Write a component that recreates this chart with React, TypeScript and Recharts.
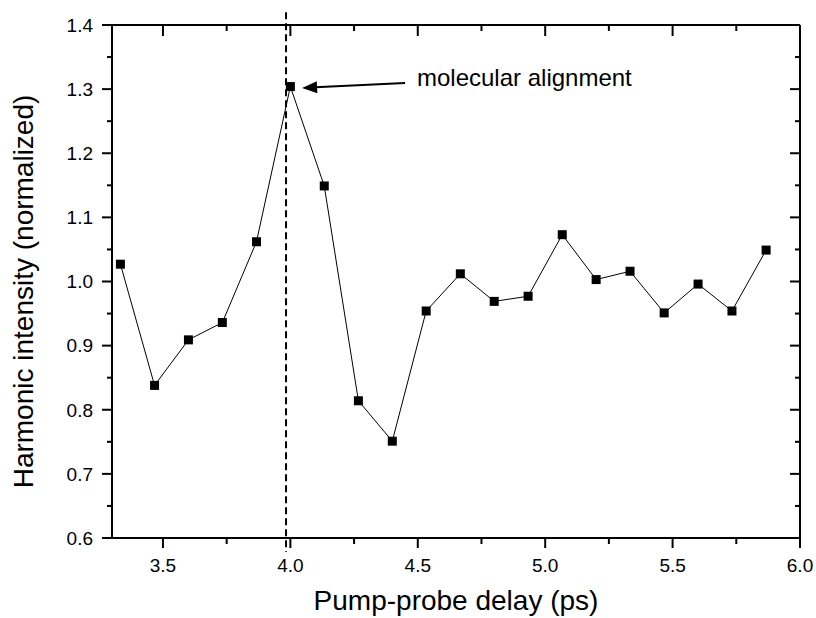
import React from 'react';
import { LineChart, Line, XAxis, YAxis, ReferenceLine, ReferenceDot } from 'recharts';

// pump-probe delay (ps) and normalized harmonic signal
const delays = [
  3.333, 3.467, 3.6, 3.733, 3.867, 4.0, 4.133, 4.267, 4.4, 4.533,
  4.667, 4.8, 4.933, 5.067, 5.2, 5.333, 5.467, 5.6, 5.733, 5.867,
];
const intensity = [
  1.027, 0.838, 0.909, 0.936, 1.062, 1.304, 1.149, 0.814, 0.751, 0.954,
  1.012, 0.969, 0.977, 1.073, 1.003, 1.016, 0.951, 0.996, 0.954, 1.049,
];

const xTicks = [3.5, 3.75, 4.0, 4.25, 4.5, 4.75, 5.0, 5.25, 5.5, 5.75, 6.0];
const yTicks = [0.6, 0.65, 0.7, 0.75, 0.8, 0.85, 0.9, 0.95, 1.0, 1.05, 1.1, 1.15, 1.2, 1.25, 1.3, 1.35, 1.4];
const xDomain = [3.3, 6.0];
const yDomain = [0.6, 1.4];

// dashed marker and annotation
const alignDelay = 3.983;
const dashedSpan = [1.42, 0.578];
const arrowFrom = { x: 4.45, y: 1.3096 };
const arrowTo = { x: 4.046, y: 1.3018 };
const noteAt = { x: 4.497, y: 1.305 };
const noteText = 'molecular alignment';

const data = delays.map((d, i) => ({ delay: d, value: intensity[i] }));

const FONT = '"Liberation Sans", Arial, Helvetica, sans-serif';

const isMajor = (v: number, step: number) => Math.abs(v / step - Math.round(v / step)) < 1e-6;

const BottomTick = (p: any) => {
  const v = p.payload.value;
  const major = isMajor(v, 0.5);
  return (
    <g>
      <line x1={p.x} x2={p.x} y1={p.y} y2={p.y + (major ? 10 : 6)} stroke="#000" strokeWidth={2} />
      {major && (
        <text x={p.x} y={p.y + 34} textAnchor="middle" fontSize={19} fontFamily={FONT} fill="#000">
          {v.toFixed(1)}
        </text>
      )}
    </g>
  );
};

const TopTick = (p: any) => {
  const major = isMajor(p.payload.value, 0.5);
  return <line x1={p.x} x2={p.x} y1={p.y} y2={p.y + (major ? 11 : 6)} stroke="#000" strokeWidth={2} />;
};

const LeftTick = (p: any) => {
  const v = p.payload.value;
  const major = isMajor(v, 0.1);
  return (
    <g>
      <line x1={p.x} x2={p.x - (major ? 10 : 5)} y1={p.y} y2={p.y} stroke="#000" strokeWidth={2} />
      {major && (
        <text x={p.x - 19} y={p.y} dy="0.36em" textAnchor="end" fontSize={19} fontFamily={FONT} fill="#000">
          {v.toFixed(1)}
        </text>
      )}
    </g>
  );
};

const RightTick = (p: any) => {
  const major = isMajor(p.payload.value, 0.1);
  return <line x1={p.x} x2={p.x - (major ? 10 : 5)} y1={p.y} y2={p.y} stroke="#000" strokeWidth={2} />;
};

const SquareDot = (p: any) => (
  <rect key={`sq-${p.index}`} x={p.cx - 4.5} y={p.cy - 4.5} width={9} height={9} fill="#000" />
);

const Arrow = (p: any) => {
  const { x1, y1, x2, y2 } = p;
  const dx = x2 - x1;
  const dy = y2 - y1;
  const len = Math.sqrt(dx * dx + dy * dy);
  const ux = dx / len;
  const uy = dy / len;
  const head = 15;
  const half = 6;
  const bx = x2 - ux * head;
  const by = y2 - uy * head;
  return (
    <g>
      <line x1={x1} y1={y1} x2={bx + ux * 2} y2={by + uy * 2} stroke="#000" strokeWidth={2} />
      <polygon
        points={`${x2},${y2} ${bx - uy * half},${by + ux * half} ${bx + uy * half},${by - ux * half}`}
        fill="#000"
      />
    </g>
  );
};

const Note = (p: any) => (
  <text x={p.cx} y={p.cy} fontSize={24} fontFamily={FONT} fill="#000">
    {noteText}
  </text>
);

const XTitle = (p: any) => {
  const vb = p.viewBox;
  return (
    <text x={vb.x + vb.width / 2} y={vb.y + 72} textAnchor="middle" fontSize={28} fontFamily={FONT} fill="#000">
      Pump-probe delay (ps)
    </text>
  );
};

const YTitle = (p: any) => {
  const vb = p.viewBox;
  const cx = 33;
  const cy = vb.y + vb.height / 2 + 10;
  return (
    <text
      x={cx}
      y={cy}
      transform={`rotate(-90 ${cx} ${cy})`}
      textAnchor="middle"
      fontSize={28}
      fontFamily={FONT}
      fill="#000"
    >
      Harmonic intensity (normalized)
    </text>
  );
};

export default function App() {
  return (
    <div style={{ position: 'absolute', left: 0, top: 0, width: 816, height: 618, background: '#fff' }}>
      <LineChart width={816} height={618} data={data} margin={{ top: 0, right: 0, bottom: 0, left: 0 }}>
        <XAxis
          xAxisId="b"
          dataKey="delay"
          type="number"
          domain={xDomain}
          ticks={xTicks}
          allowDataOverflow
          height={80}
          tickSize={0}
          tickMargin={0}
          tickLine={false}
          axisLine={{ stroke: '#000', strokeWidth: 2 }}
          tick={BottomTick}
          interval={0}
          label={XTitle}
        />
        <XAxis
          xAxisId="t"
          orientation="top"
          dataKey="delay"
          type="number"
          domain={xDomain}
          ticks={xTicks}
          allowDataOverflow
          height={25}
          tickSize={0}
          tickMargin={0}
          tickLine={false}
          axisLine={{ stroke: '#000', strokeWidth: 2 }}
          tick={TopTick}
          interval={0}
        />
        <YAxis
          yAxisId="l"
          type="number"
          domain={yDomain}
          ticks={yTicks}
          allowDataOverflow
          width={112}
          tickSize={0}
          tickMargin={0}
          tickLine={false}
          axisLine={{ stroke: '#000', strokeWidth: 2 }}
          tick={LeftTick}
          interval={0}
          label={YTitle}
        />
        <YAxis
          yAxisId="r"
          orientation="right"
          type="number"
          domain={yDomain}
          ticks={yTicks}
          allowDataOverflow
          width={16}
          tickSize={0}
          tickMargin={0}
          tickLine={false}
          axisLine={{ stroke: '#000', strokeWidth: 2 }}
          tick={RightTick}
          interval={0}
        />
        <ReferenceLine
          xAxisId="b"
          yAxisId="l"
          segment={[
            { x: alignDelay, y: dashedSpan[0] },
            { x: alignDelay, y: dashedSpan[1] },
          ]}
          ifOverflow="visible"
          stroke="#000"
          strokeWidth={2}
          strokeDasharray="7 4"
        />
        <Line
          xAxisId="b"
          yAxisId="l"
          type="linear"
          dataKey="value"
          stroke="#000"
          strokeWidth={1}
          dot={SquareDot}
          activeDot={false}
          isAnimationActive={false}
        />
        <ReferenceLine
          xAxisId="b"
          yAxisId="l"
          segment={[arrowFrom, arrowTo]}
          ifOverflow="visible"
          shape={Arrow}
        />
        <ReferenceDot
          xAxisId="b"
          yAxisId="l"
          x={noteAt.x}
          y={noteAt.y}
          r={0}
          ifOverflow="visible"
          shape={Note}
        />
      </LineChart>
    </div>
  );
}
